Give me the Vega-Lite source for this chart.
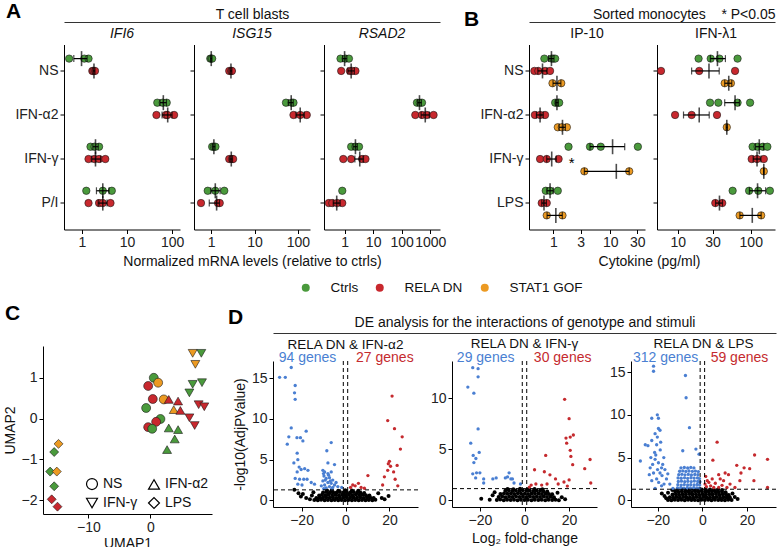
{
"$schema":"https://vega.github.io/schema/vega-lite/v6.json",
"padding":{"left":3,"top":1,"right":0,"bottom":0},
"config":{"font":"Liberation Sans","view":{"stroke":null},
"axis":{"grid":false,"domainColor":"#000","domainWidth":1,"tickColor":"#000","tickWidth":1,"tickSize":4,"labelColor":"#222","labelFontSize":14,"titleFontSize":14,"titleFontWeight":"normal","titleColor":"#111","labelPadding":2,"labelOverlap":false},
"title":{"fontWeight":"normal","fontSize":14,"color":"#111"},
"legend":{"labelFontSize":14,"labelColor":"#111"}},
"datasets":{
"aPts":[
{"gene":"IFI6","stim":"NS","g":"Ctrls","v":0.52},{"gene":"IFI6","stim":"NS","g":"Ctrls","v":1.13},{"gene":"IFI6","stim":"NS","g":"Ctrls","v":1.4},
{"gene":"IFI6","stim":"NS","g":"RELA DN","v":1.7},{"gene":"IFI6","stim":"NS","g":"RELA DN","v":1.8},{"gene":"IFI6","stim":"NS","g":"RELA DN","v":1.95},
{"gene":"IFI6","stim":"IFN-α2","g":"Ctrls","v":47},{"gene":"IFI6","stim":"IFN-α2","g":"Ctrls","v":62},{"gene":"IFI6","stim":"IFN-α2","g":"Ctrls","v":76},
{"gene":"IFI6","stim":"IFN-α2","g":"RELA DN","v":45},{"gene":"IFI6","stim":"IFN-α2","g":"RELA DN","v":73},{"gene":"IFI6","stim":"IFN-α2","g":"RELA DN","v":79},{"gene":"IFI6","stim":"IFN-α2","g":"RELA DN","v":111},
{"gene":"IFI6","stim":"IFN-γ","g":"Ctrls","v":1.55},{"gene":"IFI6","stim":"IFN-γ","g":"Ctrls","v":1.9},{"gene":"IFI6","stim":"IFN-γ","g":"Ctrls","v":2.4},
{"gene":"IFI6","stim":"IFN-γ","g":"RELA DN","v":1.4},{"gene":"IFI6","stim":"IFN-γ","g":"RELA DN","v":1.9},{"gene":"IFI6","stim":"IFN-γ","g":"RELA DN","v":2.4},{"gene":"IFI6","stim":"IFN-γ","g":"RELA DN","v":3.3},
{"gene":"IFI6","stim":"P/I","g":"Ctrls","v":1.25},{"gene":"IFI6","stim":"P/I","g":"Ctrls","v":2.9},{"gene":"IFI6","stim":"P/I","g":"Ctrls","v":4.6},
{"gene":"IFI6","stim":"P/I","g":"RELA DN","v":1.4},{"gene":"IFI6","stim":"P/I","g":"RELA DN","v":2.4},{"gene":"IFI6","stim":"P/I","g":"RELA DN","v":2.9},{"gene":"IFI6","stim":"P/I","g":"RELA DN","v":4.3},
{"gene":"ISG15","stim":"NS","g":"Ctrls","v":0.95},{"gene":"ISG15","stim":"NS","g":"Ctrls","v":1.0},{"gene":"ISG15","stim":"NS","g":"Ctrls","v":1.05},
{"gene":"ISG15","stim":"NS","g":"RELA DN","v":2.6},{"gene":"ISG15","stim":"NS","g":"RELA DN","v":2.9},{"gene":"ISG15","stim":"NS","g":"RELA DN","v":3.0},
{"gene":"ISG15","stim":"IFN-α2","g":"Ctrls","v":53},{"gene":"ISG15","stim":"IFN-α2","g":"Ctrls","v":72},{"gene":"ISG15","stim":"IFN-α2","g":"Ctrls","v":79},
{"gene":"ISG15","stim":"IFN-α2","g":"RELA DN","v":79},{"gene":"ISG15","stim":"IFN-α2","g":"RELA DN","v":113},{"gene":"ISG15","stim":"IFN-α2","g":"RELA DN","v":160},
{"gene":"ISG15","stim":"IFN-γ","g":"Ctrls","v":1.05},{"gene":"ISG15","stim":"IFN-γ","g":"Ctrls","v":1.15},{"gene":"ISG15","stim":"IFN-γ","g":"Ctrls","v":1.25},
{"gene":"ISG15","stim":"IFN-γ","g":"RELA DN","v":2.6},{"gene":"ISG15","stim":"IFN-γ","g":"RELA DN","v":3.0},{"gene":"ISG15","stim":"IFN-γ","g":"RELA DN","v":3.2},
{"gene":"ISG15","stim":"P/I","g":"Ctrls","v":0.83},{"gene":"ISG15","stim":"P/I","g":"Ctrls","v":1.24},{"gene":"ISG15","stim":"P/I","g":"Ctrls","v":2.0},
{"gene":"ISG15","stim":"P/I","g":"RELA DN","v":0.58},{"gene":"ISG15","stim":"P/I","g":"RELA DN","v":1.43},{"gene":"ISG15","stim":"P/I","g":"RELA DN","v":1.57},
{"gene":"RSAD2","stim":"NS","g":"Ctrls","v":0.72},{"gene":"RSAD2","stim":"NS","g":"Ctrls","v":1.08},{"gene":"RSAD2","stim":"NS","g":"Ctrls","v":1.42},
{"gene":"RSAD2","stim":"NS","g":"RELA DN","v":0.76},{"gene":"RSAD2","stim":"NS","g":"RELA DN","v":1.53},{"gene":"RSAD2","stim":"NS","g":"RELA DN","v":1.85},{"gene":"RSAD2","stim":"NS","g":"RELA DN","v":2.4},
{"gene":"RSAD2","stim":"IFN-α2","g":"Ctrls","v":343},{"gene":"RSAD2","stim":"IFN-α2","g":"Ctrls","v":430},{"gene":"RSAD2","stim":"IFN-α2","g":"Ctrls","v":515},
{"gene":"RSAD2","stim":"IFN-α2","g":"RELA DN","v":300},{"gene":"RSAD2","stim":"IFN-α2","g":"RELA DN","v":515},{"gene":"RSAD2","stim":"IFN-α2","g":"RELA DN","v":760},{"gene":"RSAD2","stim":"IFN-α2","g":"RELA DN","v":1310},
{"gene":"RSAD2","stim":"IFN-γ","g":"Ctrls","v":1.7},{"gene":"RSAD2","stim":"IFN-γ","g":"Ctrls","v":2.4},{"gene":"RSAD2","stim":"IFN-γ","g":"Ctrls","v":3.2},
{"gene":"RSAD2","stim":"IFN-γ","g":"RELA DN","v":0.9},{"gene":"RSAD2","stim":"IFN-γ","g":"RELA DN","v":1.7},{"gene":"RSAD2","stim":"IFN-γ","g":"RELA DN","v":4.1},{"gene":"RSAD2","stim":"IFN-γ","g":"RELA DN","v":5.4},
{"gene":"RSAD2","stim":"P/I","g":"Ctrls","v":0.83},
{"gene":"RSAD2","stim":"P/I","g":"RELA DN","v":0.28},{"gene":"RSAD2","stim":"P/I","g":"RELA DN","v":0.37},{"gene":"RSAD2","stim":"P/I","g":"RELA DN","v":0.55},{"gene":"RSAD2","stim":"P/I","g":"RELA DN","v":0.83}
],
"aSum":[
{"gene":"IFI6","stim":"NS","g":"Ctrls","m":0.98,"lo":0.66,"hi":1.3},{"gene":"IFI6","stim":"NS","g":"RELA DN","m":1.85,"lo":1.75,"hi":1.95},
{"gene":"IFI6","stim":"IFN-α2","g":"Ctrls","m":64,"lo":54,"hi":75},{"gene":"IFI6","stim":"IFN-α2","g":"RELA DN","m":80,"lo":60,"hi":100},
{"gene":"IFI6","stim":"IFN-γ","g":"Ctrls","m":2.0,"lo":1.75,"hi":2.3},{"gene":"IFI6","stim":"IFN-γ","g":"RELA DN","m":2.0,"lo":1.65,"hi":2.6},
{"gene":"IFI6","stim":"P/I","g":"Ctrls","m":2.9,"lo":2.1,"hi":4.0},{"gene":"IFI6","stim":"P/I","g":"RELA DN","m":2.9,"lo":2.3,"hi":3.6},
{"gene":"ISG15","stim":"NS","g":"Ctrls","m":1.0,"lo":0.96,"hi":1.04},{"gene":"ISG15","stim":"NS","g":"RELA DN","m":2.85,"lo":2.7,"hi":3.0},
{"gene":"ISG15","stim":"IFN-α2","g":"Ctrls","m":70,"lo":60,"hi":78},{"gene":"ISG15","stim":"IFN-α2","g":"RELA DN","m":113,"lo":90,"hi":140},
{"gene":"ISG15","stim":"IFN-γ","g":"Ctrls","m":1.15,"lo":1.07,"hi":1.23},{"gene":"ISG15","stim":"IFN-γ","g":"RELA DN","m":2.9,"lo":2.7,"hi":3.1},
{"gene":"ISG15","stim":"P/I","g":"Ctrls","m":1.24,"lo":0.98,"hi":1.6},{"gene":"ISG15","stim":"P/I","g":"RELA DN","m":1.33,"lo":0.9,"hi":1.55},
{"gene":"RSAD2","stim":"NS","g":"Ctrls","m":1.0,"lo":0.85,"hi":1.2},{"gene":"RSAD2","stim":"NS","g":"RELA DN","m":1.7,"lo":1.3,"hi":2.2},
{"gene":"RSAD2","stim":"IFN-α2","g":"Ctrls","m":420,"lo":360,"hi":490},{"gene":"RSAD2","stim":"IFN-α2","g":"RELA DN","m":670,"lo":480,"hi":930},
{"gene":"RSAD2","stim":"IFN-γ","g":"Ctrls","m":2.4,"lo":2.0,"hi":2.8},{"gene":"RSAD2","stim":"IFN-γ","g":"RELA DN","m":3.4,"lo":2.3,"hi":4.6},
{"gene":"RSAD2","stim":"P/I","g":"RELA DN","m":0.53,"lo":0.4,"hi":0.7}
],
"bPts":[
{"cyt":"IP-10","stim":"NS","g":"Ctrls","v":0.69},{"cyt":"IP-10","stim":"NS","g":"Ctrls","v":0.93},{"cyt":"IP-10","stim":"NS","g":"Ctrls","v":1.0},{"cyt":"IP-10","stim":"NS","g":"Ctrls","v":1.07},
{"cyt":"IP-10","stim":"NS","g":"RELA DN","v":0.46},{"cyt":"IP-10","stim":"NS","g":"RELA DN","v":0.54},{"cyt":"IP-10","stim":"NS","g":"RELA DN","v":0.71},{"cyt":"IP-10","stim":"NS","g":"RELA DN","v":0.87},
{"cyt":"IP-10","stim":"NS","g":"STAT1 GOF","v":0.96},{"cyt":"IP-10","stim":"NS","g":"STAT1 GOF","v":1.37},
{"cyt":"IP-10","stim":"IFN-α2","g":"Ctrls","v":1.07},{"cyt":"IP-10","stim":"IFN-α2","g":"Ctrls","v":1.2},{"cyt":"IP-10","stim":"IFN-α2","g":"Ctrls","v":1.26},
{"cyt":"IP-10","stim":"IFN-α2","g":"RELA DN","v":0.47},{"cyt":"IP-10","stim":"IFN-α2","g":"RELA DN","v":0.58},{"cyt":"IP-10","stim":"IFN-α2","g":"RELA DN","v":0.71},
{"cyt":"IP-10","stim":"IFN-α2","g":"STAT1 GOF","v":1.19},{"cyt":"IP-10","stim":"IFN-α2","g":"STAT1 GOF","v":1.4},{"cyt":"IP-10","stim":"IFN-α2","g":"STAT1 GOF","v":1.72},
{"cyt":"IP-10","stim":"IFN-γ","g":"Ctrls","v":1.84},{"cyt":"IP-10","stim":"IFN-γ","g":"Ctrls","v":4.4},{"cyt":"IP-10","stim":"IFN-γ","g":"Ctrls","v":6.8},{"cyt":"IP-10","stim":"IFN-γ","g":"Ctrls","v":30.7},
{"cyt":"IP-10","stim":"IFN-γ","g":"RELA DN","v":0.58},{"cyt":"IP-10","stim":"IFN-γ","g":"RELA DN","v":0.76},{"cyt":"IP-10","stim":"IFN-γ","g":"RELA DN","v":1.23},
{"cyt":"IP-10","stim":"IFN-γ","g":"STAT1 GOF","v":3.5},{"cyt":"IP-10","stim":"IFN-γ","g":"STAT1 GOF","v":21.6},
{"cyt":"IP-10","stim":"LPS","g":"Ctrls","v":0.73},{"cyt":"IP-10","stim":"LPS","g":"Ctrls","v":0.87},{"cyt":"IP-10","stim":"LPS","g":"Ctrls","v":1.19},
{"cyt":"IP-10","stim":"LPS","g":"RELA DN","v":0.62},{"cyt":"IP-10","stim":"LPS","g":"RELA DN","v":0.76},
{"cyt":"IP-10","stim":"LPS","g":"STAT1 GOF","v":0.76},{"cyt":"IP-10","stim":"LPS","g":"STAT1 GOF","v":1.44},
{"cyt":"IFN-λ1","stim":"NS","g":"Ctrls","v":19.3},{"cyt":"IFN-λ1","stim":"NS","g":"Ctrls","v":28.3},{"cyt":"IFN-λ1","stim":"NS","g":"Ctrls","v":37.3},{"cyt":"IFN-λ1","stim":"NS","g":"Ctrls","v":66},
{"cyt":"IFN-λ1","stim":"NS","g":"RELA DN","v":5.9},{"cyt":"IFN-λ1","stim":"NS","g":"RELA DN","v":19.7},{"cyt":"IFN-λ1","stim":"NS","g":"RELA DN","v":61},
{"cyt":"IFN-λ1","stim":"NS","g":"STAT1 GOF","v":44},{"cyt":"IFN-λ1","stim":"NS","g":"STAT1 GOF","v":53.5},
{"cyt":"IFN-λ1","stim":"IFN-α2","g":"Ctrls","v":27.7},{"cyt":"IFN-λ1","stim":"IFN-α2","g":"Ctrls","v":36},{"cyt":"IFN-λ1","stim":"IFN-α2","g":"Ctrls","v":66},{"cyt":"IFN-λ1","stim":"IFN-α2","g":"Ctrls","v":98},
{"cyt":"IFN-λ1","stim":"IFN-α2","g":"RELA DN","v":9.2},{"cyt":"IFN-λ1","stim":"IFN-α2","g":"RELA DN","v":15.5},{"cyt":"IFN-λ1","stim":"IFN-α2","g":"RELA DN","v":34.5},
{"cyt":"IFN-λ1","stim":"IFN-α2","g":"STAT1 GOF","v":47},
{"cyt":"IFN-λ1","stim":"IFN-γ","g":"Ctrls","v":106},{"cyt":"IFN-λ1","stim":"IFN-γ","g":"Ctrls","v":124},{"cyt":"IFN-λ1","stim":"IFN-γ","g":"Ctrls","v":147},{"cyt":"IFN-λ1","stim":"IFN-γ","g":"Ctrls","v":169},
{"cyt":"IFN-λ1","stim":"IFN-γ","g":"RELA DN","v":103},{"cyt":"IFN-λ1","stim":"IFN-γ","g":"RELA DN","v":122},{"cyt":"IFN-λ1","stim":"IFN-γ","g":"RELA DN","v":151},
{"cyt":"IFN-λ1","stim":"IFN-γ","g":"STAT1 GOF","v":151},
{"cyt":"IFN-λ1","stim":"LPS","g":"Ctrls","v":56.5},{"cyt":"IFN-λ1","stim":"LPS","g":"Ctrls","v":95},{"cyt":"IFN-λ1","stim":"LPS","g":"Ctrls","v":127},{"cyt":"IFN-λ1","stim":"LPS","g":"Ctrls","v":183},
{"cyt":"IFN-λ1","stim":"LPS","g":"RELA DN","v":32.7},{"cyt":"IFN-λ1","stim":"LPS","g":"RELA DN","v":40.7},
{"cyt":"IFN-λ1","stim":"LPS","g":"STAT1 GOF","v":70.5},{"cyt":"IFN-λ1","stim":"LPS","g":"STAT1 GOF","v":139}
],
"bSum":[
{"cyt":"IP-10","stim":"NS","g":"Ctrls","m":0.92,"lo":0.82,"hi":1.02},{"cyt":"IP-10","stim":"NS","g":"RELA DN","m":0.64,"lo":0.53,"hi":0.77},{"cyt":"IP-10","stim":"NS","g":"STAT1 GOF","m":1.15,"lo":0.98,"hi":1.35},
{"cyt":"IP-10","stim":"IFN-α2","g":"Ctrls","m":1.15,"lo":1.09,"hi":1.22},{"cyt":"IP-10","stim":"IFN-α2","g":"RELA DN","m":0.58,"lo":0.5,"hi":0.66},{"cyt":"IP-10","stim":"IFN-α2","g":"STAT1 GOF","m":1.44,"lo":1.26,"hi":1.62},
{"cyt":"IP-10","stim":"IFN-γ","g":"Ctrls","m":11,"lo":4.4,"hi":18},{"cyt":"IP-10","stim":"IFN-γ","g":"RELA DN","m":0.93,"lo":0.76,"hi":1.12},{"cyt":"IP-10","stim":"IFN-γ","g":"STAT1 GOF","m":12.8,"lo":3.5,"hi":21.6},
{"cyt":"IP-10","stim":"LPS","g":"Ctrls","m":0.87,"lo":0.77,"hi":0.99},{"cyt":"IP-10","stim":"LPS","g":"RELA DN","m":0.68,"lo":0.62,"hi":0.75},{"cyt":"IP-10","stim":"LPS","g":"STAT1 GOF","m":1.1,"lo":0.77,"hi":1.43},
{"cyt":"IFN-λ1","stim":"NS","g":"Ctrls","m":35,"lo":28,"hi":45},{"cyt":"IFN-λ1","stim":"NS","g":"RELA DN","m":26.8,"lo":15.5,"hi":37},{"cyt":"IFN-λ1","stim":"NS","g":"STAT1 GOF","m":50,"lo":44,"hi":55},
{"cyt":"IFN-λ1","stim":"IFN-α2","g":"Ctrls","m":61,"lo":44,"hi":70},{"cyt":"IFN-λ1","stim":"IFN-α2","g":"RELA DN","m":19.7,"lo":12,"hi":27},{"cyt":"IFN-λ1","stim":"IFN-α2","g":"STAT1 GOF","m":47,"lo":46,"hi":48},
{"cyt":"IFN-λ1","stim":"IFN-γ","g":"Ctrls","m":131,"lo":116,"hi":150},{"cyt":"IFN-λ1","stim":"IFN-γ","g":"RELA DN","m":122,"lo":108,"hi":138},{"cyt":"IFN-λ1","stim":"IFN-γ","g":"STAT1 GOF","m":151,"lo":150,"hi":152},
{"cyt":"IFN-λ1","stim":"LPS","g":"Ctrls","m":124,"lo":96,"hi":160},{"cyt":"IFN-λ1","stim":"LPS","g":"RELA DN","m":37.3,"lo":33,"hi":41},{"cyt":"IFN-λ1","stim":"LPS","g":"STAT1 GOF","m":105,"lo":71,"hi":139}
],
"umap":[
{"u1":0.53,"u2":1.0,"g":"Ctrls","stim":"NS"},{"u1":1.23,"u2":0.88,"g":"STAT1 GOF","stim":"NS"},{"u1":-0.37,"u2":0.8,"g":"RELA DN","stim":"NS"},{"u1":0.37,"u2":0.48,"g":"RELA DN","stim":"NS"},{"u1":2.14,"u2":0.47,"g":"STAT1 GOF","stim":"NS"},
{"u1":-0.7,"u2":0.26,"g":"Ctrls","stim":"NS"},{"u1":1.6,"u2":-0.01,"g":"Ctrls","stim":"NS"},{"u1":0.91,"u2":-0.08,"g":"RELA DN","stim":"NS"},{"u1":-0.37,"u2":-0.21,"g":"RELA DN","stim":"NS"},{"u1":0.27,"u2":-0.25,"g":"Ctrls","stim":"NS"},
{"u1":2.94,"u2":0.47,"g":"RELA DN","stim":"IFN-α2"},{"u1":4.44,"u2":0.43,"g":"RELA DN","stim":"IFN-α2"},{"u1":3.74,"u2":0.22,"g":"STAT1 GOF","stim":"IFN-α2"},{"u1":4.81,"u2":0.2,"g":"RELA DN","stim":"IFN-α2"},
{"u1":2.94,"u2":-0.23,"g":"Ctrls","stim":"IFN-α2"},{"u1":4.44,"u2":-0.27,"g":"Ctrls","stim":"IFN-α2"},{"u1":3.9,"u2":-0.5,"g":"Ctrls","stim":"IFN-α2"},{"u1":2.67,"u2":-0.76,"g":"Ctrls","stim":"IFN-α2"},
{"u1":6.79,"u2":1.6,"g":"STAT1 GOF","stim":"IFN-γ"},{"u1":8.18,"u2":1.6,"g":"Ctrls","stim":"IFN-γ"},{"u1":7.22,"u2":1.33,"g":"STAT1 GOF","stim":"IFN-γ"},{"u1":6.79,"u2":0.84,"g":"Ctrls","stim":"IFN-γ"},{"u1":8.29,"u2":0.88,"g":"Ctrls","stim":"IFN-γ"},
{"u1":6.26,"u2":0.63,"g":"Ctrls","stim":"IFN-γ"},{"u1":7.75,"u2":0.34,"g":"RELA DN","stim":"IFN-γ"},{"u1":8.66,"u2":0.29,"g":"RELA DN","stim":"IFN-γ"},{"u1":6.26,"u2":0.02,"g":"RELA DN","stim":"IFN-γ"},{"u1":7.11,"u2":-0.17,"g":"RELA DN","stim":"IFN-γ"},
{"u1":-14.8,"u2":-0.62,"g":"STAT1 GOF","stim":"LPS"},{"u1":-15.5,"u2":-0.82,"g":"Ctrls","stim":"LPS"},{"u1":-16.15,"u2":-1.3,"g":"Ctrls","stim":"LPS"},{"u1":-15.08,"u2":-1.3,"g":"STAT1 GOF","stim":"LPS"},
{"u1":-15.5,"u2":-1.66,"g":"Ctrls","stim":"LPS"},{"u1":-15.9,"u2":-1.98,"g":"RELA DN","stim":"LPS"},{"u1":-14.97,"u2":-2.16,"g":"RELA DN","stim":"LPS"}
],
"d1n":[{"x":-14.2,"y":0.05},{"x":-12.6,"y":0.02},{"x":-11.1,"y":0.08},{"x":-9.5,"y":0.03},{"x":-8,"y":0.06},{"x":-6.4,"y":0.02},{"x":-4.9,"y":0.07},{"x":-3.3,"y":0.03},{"x":-1.8,"y":0.05},{"x":-0.2,"y":0.02},{"x":1.3,"y":0.06},{"x":2.9,"y":0.03},{"x":4.4,"y":0.07},{"x":6,"y":0.02},{"x":7.5,"y":0.05},{"x":9.1,"y":0.03},{"x":10.6,"y":0.06},{"x":12.2,"y":0.02},{"x":13.6,"y":0.08},
{"x":-13.3,"y":0.3},{"x":-11.8,"y":0.38},{"x":-10.3,"y":0.33},{"x":-8.8,"y":0.4},{"x":-7.2,"y":0.34},{"x":-5.7,"y":0.39},{"x":-4.1,"y":0.31},{"x":-2.6,"y":0.37},{"x":-1,"y":0.35},{"x":0.5,"y":0.4},{"x":2.1,"y":0.32},{"x":3.6,"y":0.38},{"x":5.2,"y":0.34},{"x":6.7,"y":0.39},{"x":8.3,"y":0.31},{"x":9.8,"y":0.36},{"x":11.3,"y":0.33},{"x":12.8,"y":0.3},
{"x":-12,"y":0.62},{"x":-10.7,"y":0.7},{"x":-9.2,"y":0.65},{"x":-7.7,"y":0.72},{"x":-6.1,"y":0.66},{"x":-4.6,"y":0.7},{"x":-3,"y":0.64},{"x":-1.5,"y":0.71},{"x":0,"y":0.67},{"x":1.6,"y":0.7},{"x":3.1,"y":0.65},{"x":4.7,"y":0.72},{"x":6.2,"y":0.66},{"x":7.8,"y":0.69},{"x":9.3,"y":0.63},{"x":10.9,"y":0.6},
{"x":-10.2,"y":0.98},{"x":-8.7,"y":1.03},{"x":-7.1,"y":0.97},{"x":-5.6,"y":1.02},{"x":-4,"y":0.99},{"x":-2.5,"y":1.04},{"x":-0.9,"y":0.98},{"x":0.6,"y":1.01},{"x":2.2,"y":0.97},{"x":3.7,"y":1.03},{"x":5.3,"y":0.99},{"x":6.8,"y":0.95},{"x":8.5,"y":0.92},
{"x":-8.4,"y":1.22},{"x":-6.3,"y":1.25},{"x":-3.3,"y":1.2},{"x":-0.1,"y":1.24},{"x":2.9,"y":1.21},{"x":5.8,"y":1.18},
{"x":-23.3,"y":1.3},{"x":-21.4,"y":0.9},{"x":-19.4,"y":0.8},{"x":-17.9,"y":0.3},{"x":-16.2,"y":0.15},{"x":-15.3,"y":0.6},{"x":-20.3,"y":0.5},{"x":14.9,"y":0.9},{"x":16.5,"y":0.3},{"x":19.6,"y":0.55},{"x":17.8,"y":0.15},{"x":-14.6,"y":1.0}],
"d1b":[{"x":-30,"y":15.1},{"x":-27.4,"y":15.1},{"x":-24.7,"y":16.3},{"x":-22.9,"y":14.1},{"x":-23.2,"y":13.2},{"x":-22.9,"y":12.4},{"x":-24.7,"y":8.9},{"x":-26.5,"y":6.9},{"x":-25.8,"y":7.8},{"x":-22.1,"y":7.7},{"x":-20.5,"y":7.7},{"x":-17.9,"y":8.5},{"x":-19.4,"y":7.3},{"x":-22,"y":5.8},{"x":-23.5,"y":4.6},{"x":-21.7,"y":5.0},{"x":-21.1,"y":4.1},{"x":-20.2,"y":3.8},{"x":-22,"y":3.5},{"x":-18.6,"y":3.9},{"x":-17.1,"y":3.7},{"x":-22.9,"y":2.7},{"x":-20.9,"y":2.6},{"x":-19,"y":2.6},{"x":-17.5,"y":2.6},{"x":-15.6,"y":2.2},{"x":-14.1,"y":2.0},{"x":-21.7,"y":2.0},{"x":-19.8,"y":1.9},
{"x":-6.5,"y":7.1},{"x":-8.5,"y":6.1},{"x":-8,"y":4.6},{"x":-5,"y":4.4},{"x":-10.3,"y":3.7},{"x":-9.5,"y":3.5},{"x":-8,"y":3.3},{"x":-6.5,"y":3.5},{"x":-9.8,"y":3.0},{"x":-8.8,"y":2.7},{"x":-7.3,"y":2.8},{"x":-5.8,"y":2.5},{"x":-10.3,"y":2.4},{"x":-8,"y":2.2},{"x":-6.5,"y":2.1},{"x":-5,"y":1.9},{"x":-9.5,"y":1.9},{"x":-3.5,"y":1.7},{"x":-1.7,"y":1.6},{"x":-11,"y":1.8},{"x":-7.3,"y":1.7},{"x":-5.8,"y":1.6},{"x":-8.8,"y":1.55},{"x":-9.2,"y":2.5},{"x":-7.7,"y":3.1},{"x":-6.9,"y":2.4},{"x":-10,"y":3.3},{"x":-4.3,"y":2.2},{"x":-9.9,"y":1.45},{"x":-6.2,"y":1.45}],
"d1r":[{"x":21.2,"y":12.8},{"x":19.2,"y":9.8},{"x":22.3,"y":8.8},{"x":25.8,"y":7.8},{"x":25,"y":6.3},{"x":20,"y":4.8},{"x":19.5,"y":4.5},{"x":23.5,"y":4.3},{"x":19.2,"y":3.7},{"x":21.9,"y":3.5},{"x":17.7,"y":2.9},{"x":22.6,"y":2.6},{"x":16.9,"y":1.9},{"x":23.8,"y":1.8},{"x":10.2,"y":3.05},{"x":5.9,"y":2.1},{"x":4.4,"y":1.8},{"x":7.1,"y":1.6},{"x":8.6,"y":1.5},{"x":2.3,"y":1.6},{"x":3.3,"y":1.9},{"x":20.5,"y":4.2}],
"d2n":[{"x":-12.4,"y":0.04},{"x":-10.9,"y":0.08},{"x":-9.3,"y":0.02},{"x":-7.8,"y":0.06},{"x":-6.2,"y":0.03},{"x":-4.7,"y":0.07},{"x":-3.1,"y":0.02},{"x":-1.6,"y":0.05},{"x":0,"y":0.03},{"x":1.5,"y":0.07},{"x":3.1,"y":0.02},{"x":4.6,"y":0.06},{"x":6.2,"y":0.03},{"x":7.7,"y":0.07},{"x":9.3,"y":0.02},{"x":10.8,"y":0.05},{"x":12.4,"y":0.03},{"x":13.9,"y":0.06},{"x":15.4,"y":0.02},
{"x":-11.6,"y":0.33},{"x":-10,"y":0.37},{"x":-8.5,"y":0.31},{"x":-6.9,"y":0.36},{"x":-5.4,"y":0.32},{"x":-3.8,"y":0.38},{"x":-2.3,"y":0.33},{"x":-0.7,"y":0.36},{"x":0.8,"y":0.31},{"x":2.4,"y":0.37},{"x":3.9,"y":0.33},{"x":5.5,"y":0.35},{"x":7,"y":0.32},{"x":8.6,"y":0.37},{"x":10.1,"y":0.33},{"x":11.7,"y":0.36},{"x":13.2,"y":0.3},
{"x":-10.8,"y":0.63},{"x":-9.2,"y":0.68},{"x":-7.7,"y":0.64},{"x":-6.1,"y":0.67},{"x":-4.6,"y":0.62},{"x":-3,"y":0.69},{"x":-1.5,"y":0.65},{"x":0.1,"y":0.66},{"x":1.6,"y":0.62},{"x":3.2,"y":0.68},{"x":4.7,"y":0.64},{"x":6.3,"y":0.67},{"x":7.8,"y":0.63},{"x":9.4,"y":0.66},{"x":10.9,"y":0.62},{"x":12.4,"y":0.6},
{"x":-8.6,"y":0.93},{"x":-7,"y":0.97},{"x":-5.4,"y":0.92},{"x":-3.9,"y":0.96},{"x":-2.3,"y":0.94},{"x":-0.8,"y":0.98},{"x":0.8,"y":0.93},{"x":2.3,"y":0.97},{"x":3.9,"y":0.92},{"x":5.4,"y":0.96},{"x":7,"y":0.93},{"x":8.5,"y":0.9},{"x":10.2,"y":0.88},
{"x":-7.6,"y":1.12},{"x":-5,"y":1.1},{"x":-2,"y":1.13},{"x":1.5,"y":1.1},{"x":4.5,"y":1.12},{"x":8,"y":1.08},
{"x":-19.4,"y":0.15},{"x":-15.6,"y":0.05},{"x":-14.3,"y":0.5},{"x":16.7,"y":0.3},{"x":18.2,"y":0.1},{"x":-13.4,"y":0.8},{"x":14.8,"y":0.75}],
"d2b":[{"x":-23.2,"y":13.0},{"x":-20.8,"y":12.9},{"x":-20.8,"y":12.1},{"x":-25.4,"y":11.1},{"x":-22.7,"y":10.5},{"x":-24.1,"y":5.6},{"x":-20.8,"y":7.0},{"x":-23,"y":4.4},{"x":-21.8,"y":4.1},{"x":-20.3,"y":4.7},{"x":-22.7,"y":3.7},{"x":-23.2,"y":2.6},{"x":-21.5,"y":2.7},{"x":-20,"y":2.7},{"x":-21.9,"y":2.2},{"x":-18.3,"y":2.1},{"x":-18.3,"y":1.7},{"x":-14.2,"y":2.1},{"x":-12.7,"y":2.2},{"x":-8.6,"y":2.2},{"x":-7.6,"y":2.3},{"x":-6.9,"y":2.7},{"x":-6.1,"y":2.1},{"x":-5.4,"y":2.1},{"x":-1.8,"y":1.6},{"x":-4.7,"y":1.7}],
"d2r":[{"x":4.5,"y":3.0},{"x":9.5,"y":4.4},{"x":8.9,"y":2.8},{"x":11.4,"y":2.5},{"x":13.9,"y":2.1},{"x":17.7,"y":1.8},{"x":5.1,"y":1.6},{"x":7.7,"y":1.5},{"x":10.1,"y":1.6},{"x":15.1,"y":1.6},{"x":18,"y":9.9},{"x":20,"y":8.0},{"x":18.6,"y":6.1},{"x":20.5,"y":6.2},{"x":21.9,"y":6.4},{"x":18.9,"y":5.6},{"x":20.5,"y":4.9},{"x":20.8,"y":4.3},{"x":21.6,"y":3.5},{"x":27,"y":3.1},{"x":29.4,"y":4.0},{"x":20,"y":2.0},{"x":29.7,"y":1.7},{"x":19.2,"y":1.4},{"x":3,"y":1.5},{"x":2.2,"y":1.3}],
"d3n":[{"x":-15.4,"y":0.05},{"x":-13.9,"y":0.02},{"x":-12.4,"y":0.07},{"x":-10.9,"y":0.03},{"x":-9.4,"y":0.06},{"x":-7.9,"y":0.02},{"x":-6.4,"y":0.08},{"x":-4.9,"y":0.03},{"x":-3.4,"y":0.05},{"x":-1.9,"y":0.02},{"x":-0.4,"y":0.07},{"x":1.1,"y":0.03},{"x":2.6,"y":0.06},{"x":4.1,"y":0.02},{"x":5.6,"y":0.07},{"x":7.1,"y":0.03},{"x":8.6,"y":0.05},{"x":10.1,"y":0.02},{"x":11.6,"y":0.06},{"x":13.1,"y":0.03},
{"x":-14.6,"y":0.37},{"x":-13.1,"y":0.33},{"x":-11.6,"y":0.39},{"x":-10.1,"y":0.34},{"x":-8.6,"y":0.38},{"x":-7.1,"y":0.32},{"x":-5.6,"y":0.37},{"x":-4.1,"y":0.33},{"x":-2.6,"y":0.39},{"x":-1.1,"y":0.34},{"x":0.4,"y":0.38},{"x":1.9,"y":0.32},{"x":3.4,"y":0.36},{"x":4.9,"y":0.33},{"x":6.4,"y":0.39},{"x":7.9,"y":0.34},{"x":9.4,"y":0.37},{"x":10.9,"y":0.32},{"x":12.3,"y":0.35},
{"x":-13.4,"y":0.68},{"x":-11.9,"y":0.72},{"x":-10.4,"y":0.66},{"x":-8.9,"y":0.71},{"x":-7.4,"y":0.67},{"x":-5.9,"y":0.73},{"x":-4.4,"y":0.68},{"x":-2.9,"y":0.7},{"x":-1.4,"y":0.66},{"x":0.1,"y":0.72},{"x":1.6,"y":0.67},{"x":3.1,"y":0.71},{"x":4.6,"y":0.68},{"x":6.1,"y":0.73},{"x":7.6,"y":0.66},{"x":9.1,"y":0.7},{"x":10.6,"y":0.67},{"x":11.8,"y":0.62},
{"x":-12.2,"y":1.02},{"x":-10.7,"y":0.98},{"x":-9.2,"y":1.04},{"x":-7.7,"y":0.99},{"x":-6.2,"y":1.03},{"x":-4.7,"y":0.97},{"x":-3.2,"y":1.05},{"x":-1.7,"y":1.0},{"x":-0.2,"y":1.03},{"x":1.3,"y":0.98},{"x":2.8,"y":1.04},{"x":4.3,"y":0.99},{"x":5.8,"y":1.02},{"x":7.3,"y":0.97},{"x":8.8,"y":1.0},{"x":10.4,"y":0.95},
{"x":-11,"y":1.27},{"x":-9.2,"y":1.3},{"x":-7.4,"y":1.25},{"x":-5.6,"y":1.29},{"x":-3.8,"y":1.26},{"x":-2,"y":1.3},{"x":-0.3,"y":1.27},{"x":1.6,"y":1.25},{"x":3.4,"y":1.28},{"x":5.2,"y":1.24},{"x":7,"y":1.27},{"x":8.8,"y":1.22},
{"x":-15.4,"y":0.9},{"x":-13.5,"y":1.2},{"x":-17,"y":0.5},{"x":-16.2,"y":0.25},{"x":14.5,"y":0.4},{"x":15.8,"y":0.15},{"x":-18.2,"y":0.8},{"x":13.5,"y":0.8}],
"d3b":[{"x":-21.9,"y":15.7},{"x":-21.9,"y":15.1},{"x":-7.6,"y":14.6},{"x":-7.3,"y":12.0},{"x":-5.8,"y":8.5},{"x":-22.7,"y":9.6},{"x":-20.2,"y":10.0},{"x":-19.7,"y":9.6},{"x":-19.7,"y":8.4},{"x":-19,"y":8.2},{"x":-21.2,"y":7.8},{"x":-25.6,"y":6.5},{"x":-22.7,"y":7.0},{"x":-20.5,"y":6.5},{"x":-18.7,"y":6.8},{"x":-27.8,"y":4.6},{"x":-23.4,"y":3.8},{"x":-21.2,"y":4.8},{"x":-19.7,"y":4.4},{"x":-18.3,"y":3.8},{"x":-17.3,"y":5.0},{"x":-21.9,"y":3.2},{"x":-19,"y":3.2},{"x":-16.8,"y":3.6},{"x":-20.5,"y":2.5},{"x":-22.7,"y":2.3},{"x":-16.1,"y":2.5},{"x":-14.6,"y":1.9},{"x":-21.2,"y":1.4},{"x":-18.3,"y":1.7},{"x":-13.2,"y":1.4},{"x":-8.8,"y":5.8},{"x":-2.9,"y":6.0},{"x":-1.5,"y":5.4},{"x":-24.4,"y":6.4},{"x":-20.9,"y":5.3},{"x":-18.9,"y":5.9},{"x":-22.3,"y":4.2},{"x":-17.8,"y":4.2},{"x":-20.1,"y":3.6},{"x":-23.8,"y":3.0},{"x":-18.1,"y":2.9},{"x":-15.5,"y":3.1},{"x":-19.6,"y":2.1},{"x":-17.2,"y":1.9},{"x":-21.4,"y":5.6},{"x":-20.2,"y":7.4},{"x":-23.1,"y":5.0},
{"x":-11.2,"y":1.45},{"x":-9.7,"y":1.48},{"x":-8.3,"y":1.43},{"x":-6.8,"y":1.47},{"x":-5.4,"y":1.44},{"x":-3.9,"y":1.49},{"x":-2.5,"y":1.45},{"x":-1.3,"y":1.42},
{"x":-11,"y":1.82},{"x":-9.5,"y":1.78},{"x":-8.1,"y":1.84},{"x":-6.6,"y":1.79},{"x":-5.2,"y":1.83},{"x":-3.7,"y":1.8},{"x":-2.3,"y":1.85},{"x":-1.2,"y":1.8},
{"x":-10.8,"y":2.2},{"x":-9.4,"y":2.24},{"x":-7.9,"y":2.18},{"x":-6.5,"y":2.23},{"x":-5,"y":2.19},{"x":-3.6,"y":2.25},{"x":-2.1,"y":2.2},{"x":-1.1,"y":2.16},
{"x":-10.9,"y":2.62},{"x":-9.5,"y":2.58},{"x":-8,"y":2.63},{"x":-6.6,"y":2.57},{"x":-5.1,"y":2.64},{"x":-3.7,"y":2.6},{"x":-2.2,"y":2.62},{"x":-1.3,"y":2.55},
{"x":-10.6,"y":3.0},{"x":-9.2,"y":3.04},{"x":-7.8,"y":2.98},{"x":-6.3,"y":3.03},{"x":-4.9,"y":2.97},{"x":-3.4,"y":3.02},{"x":-2,"y":2.99},
{"x":-10.2,"y":3.4},{"x":-8.8,"y":3.44},{"x":-7.4,"y":3.38},{"x":-6,"y":3.43},{"x":-4.5,"y":3.39},{"x":-3.1,"y":3.42},{"x":-1.8,"y":3.36},
{"x":-9.6,"y":3.8},{"x":-8.1,"y":3.84},{"x":-6.6,"y":3.78},{"x":-5.2,"y":3.85},{"x":-3.8,"y":3.79}],
"d3r":[{"x":6.6,"y":6.8},{"x":4.7,"y":4.7},{"x":23.4,"y":5.3},{"x":29.2,"y":4.8},{"x":15.4,"y":4.1},{"x":18.7,"y":3.8},{"x":21.2,"y":3.7},{"x":17.3,"y":3.2},{"x":23.1,"y":2.3},{"x":29.2,"y":1.5},{"x":7.3,"y":3.0},{"x":10.2,"y":3.2},{"x":11.7,"y":3.0},{"x":8,"y":2.5},{"x":9.5,"y":2.3},{"x":4.4,"y":2.5},{"x":2.9,"y":2.1},{"x":1.5,"y":2.8},{"x":2.2,"y":2.3},{"x":5.8,"y":2.0},{"x":8.8,"y":1.75},{"x":12.4,"y":1.9},{"x":11,"y":1.5},{"x":3.7,"y":1.7},{"x":1.2,"y":1.9},{"x":14.6,"y":1.5},{"x":16.8,"y":2.3},{"x":7.3,"y":1.5},{"x":5.1,"y":1.5},{"x":1.8,"y":1.6}]
},
"vconcat":[
{"hconcat":[
 {"width":1,"height":1,"data":{"values":[]},"mark":{"type":"point","opacity":0},"encoding":{},
  "title":{"text":"A","anchor":"start","frame":"group","dx":-37,"dy":17,"offset":0,"baseline":"alphabetic","fontSize":21,"fontWeight":"bold","color":"#000"}},
 {"hconcat":[
  {"vconcat":[
   {"width":376,"height":1,"data":{"values":[]},"mark":{"type":"point","opacity":0},
    "encoding":{"x":{"field":"v","type":"quantitative","scale":{"domain":[0,1],"nice":false},"axis":{"orient":"top","ticks":false,"labels":false,"domainColor":"#333","title":"T cell blasts","titlePadding":1}}}},
   {"hconcat":[
    {"width":116,"height":185,"title":{"text":"IFI6","fontStyle":"italic","offset":4},
     "encoding":{"y":{"field":"stim","type":"nominal","scale":{"domain":["NS","IFN-α2","IFN-γ","P/I"],"paddingInner":0,"paddingOuter":0.1},"axis":{"title":null}},
       "yOffset":{"field":"g","type":"nominal","scale":{"domain":["Ctrls","RELA DN"],"paddingInner":0,"paddingOuter":0.29}}},
     "layer":[
      {"data":{"name":"aPts"},"transform":[{"filter":"datum.gene==='IFI6'"}],"mark":{"type":"point","filled":true,"size":55,"stroke":"#1a1a1a","strokeWidth":0.6,"opacity":1},
       "encoding":{"x":{"field":"v","type":"quantitative","scale":{"type":"log","domain":[0.4,150],"nice":false},"axis":{"values":[1,10,100],"format":"d","title":null}},
        "color":{"field":"g","type":"nominal","scale":{"domain":["Ctrls","RELA DN","STAT1 GOF"],"range":["#4a9a3c","#c8282e","#ec9a22"]},"legend":null}}},
      {"data":{"name":"aSum"},"transform":[{"filter":"datum.gene==='IFI6'"}],"mark":{"type":"rule","color":"#000","strokeWidth":1.2},
       "encoding":{"x":{"field":"lo","type":"quantitative","scale":{"type":"log","domain":[0.4,150],"nice":false}},"x2":{"field":"hi"}}},
      {"data":{"name":"aSum"},"transform":[{"filter":"datum.gene==='IFI6'"}],"mark":{"type":"tick","color":"#000","thickness":1.2,"size":7},
       "encoding":{"x":{"field":"lo","type":"quantitative","scale":{"type":"log","domain":[0.4,150],"nice":false}}}},
      {"data":{"name":"aSum"},"transform":[{"filter":"datum.gene==='IFI6'"}],"mark":{"type":"tick","color":"#000","thickness":1.2,"size":7},
       "encoding":{"x":{"field":"hi","type":"quantitative","scale":{"type":"log","domain":[0.4,150],"nice":false}}}},
      {"data":{"name":"aSum"},"transform":[{"filter":"datum.gene==='IFI6'"}],"mark":{"type":"tick","color":"#000","thickness":1.6,"size":15},
       "encoding":{"x":{"field":"m","type":"quantitative","scale":{"type":"log","domain":[0.4,150],"nice":false}}}}
     ]},
    {"width":116,"height":185,"title":{"text":"ISG15","fontStyle":"italic","offset":4},
     "encoding":{"y":{"field":"stim","type":"nominal","scale":{"domain":["NS","IFN-α2","IFN-γ","P/I"],"paddingInner":0,"paddingOuter":0.1},"axis":{"title":null,"labels":false}},
       "yOffset":{"field":"g","type":"nominal","scale":{"domain":["Ctrls","RELA DN"],"paddingInner":0,"paddingOuter":0.29}}},
     "layer":[
      {"data":{"name":"aPts"},"transform":[{"filter":"datum.gene==='ISG15'"}],"mark":{"type":"point","filled":true,"size":55,"stroke":"#1a1a1a","strokeWidth":0.6,"opacity":1},
       "encoding":{"x":{"field":"v","type":"quantitative","scale":{"type":"log","domain":[0.4,190],"nice":false},"axis":{"values":[1,10,100],"format":"d","title":"Normalized mRNA levels (relative to ctrls)","titlePadding":5}},
        "color":{"field":"g","type":"nominal","scale":{"domain":["Ctrls","RELA DN","STAT1 GOF"],"range":["#4a9a3c","#c8282e","#ec9a22"]},"legend":null}}},
      {"data":{"name":"aSum"},"transform":[{"filter":"datum.gene==='ISG15'"}],"mark":{"type":"rule","color":"#000","strokeWidth":1.2},
       "encoding":{"x":{"field":"lo","type":"quantitative","scale":{"type":"log","domain":[0.4,190],"nice":false}},"x2":{"field":"hi"}}},
      {"data":{"name":"aSum"},"transform":[{"filter":"datum.gene==='ISG15'"}],"mark":{"type":"tick","color":"#000","thickness":1.2,"size":7},
       "encoding":{"x":{"field":"lo","type":"quantitative","scale":{"type":"log","domain":[0.4,190],"nice":false}}}},
      {"data":{"name":"aSum"},"transform":[{"filter":"datum.gene==='ISG15'"}],"mark":{"type":"tick","color":"#000","thickness":1.2,"size":7},
       "encoding":{"x":{"field":"hi","type":"quantitative","scale":{"type":"log","domain":[0.4,190],"nice":false}}}},
      {"data":{"name":"aSum"},"transform":[{"filter":"datum.gene==='ISG15'"}],"mark":{"type":"tick","color":"#000","thickness":1.6,"size":15},
       "encoding":{"x":{"field":"m","type":"quantitative","scale":{"type":"log","domain":[0.4,190],"nice":false}}}}
     ]},
    {"width":116,"height":185,"title":{"text":"RSAD2","fontStyle":"italic","offset":4},
     "encoding":{"y":{"field":"stim","type":"nominal","scale":{"domain":["NS","IFN-α2","IFN-γ","P/I"],"paddingInner":0,"paddingOuter":0.1},"axis":{"title":null,"labels":false}},
       "yOffset":{"field":"g","type":"nominal","scale":{"domain":["Ctrls","RELA DN"],"paddingInner":0,"paddingOuter":0.29}}},
     "layer":[
      {"data":{"name":"aPts"},"transform":[{"filter":"datum.gene==='RSAD2'"}],"mark":{"type":"point","filled":true,"size":55,"stroke":"#1a1a1a","strokeWidth":0.6,"opacity":1},
       "encoding":{"x":{"field":"v","type":"quantitative","scale":{"type":"log","domain":[0.19,2200],"nice":false},"axis":{"values":[1,10,100,1000],"format":"d","title":null}},
        "color":{"field":"g","type":"nominal","scale":{"domain":["Ctrls","RELA DN","STAT1 GOF"],"range":["#4a9a3c","#c8282e","#ec9a22"]},"legend":null}}},
      {"data":{"name":"aSum"},"transform":[{"filter":"datum.gene==='RSAD2'"}],"mark":{"type":"rule","color":"#000","strokeWidth":1.2},
       "encoding":{"x":{"field":"lo","type":"quantitative","scale":{"type":"log","domain":[0.19,2200],"nice":false}},"x2":{"field":"hi"}}},
      {"data":{"name":"aSum"},"transform":[{"filter":"datum.gene==='RSAD2'"}],"mark":{"type":"tick","color":"#000","thickness":1.2,"size":7},
       "encoding":{"x":{"field":"lo","type":"quantitative","scale":{"type":"log","domain":[0.19,2200],"nice":false}}}},
      {"data":{"name":"aSum"},"transform":[{"filter":"datum.gene==='RSAD2'"}],"mark":{"type":"tick","color":"#000","thickness":1.2,"size":7},
       "encoding":{"x":{"field":"hi","type":"quantitative","scale":{"type":"log","domain":[0.19,2200],"nice":false}}}},
      {"data":{"name":"aSum"},"transform":[{"filter":"datum.gene==='RSAD2'"}],"mark":{"type":"tick","color":"#000","thickness":1.6,"size":15},
       "encoding":{"x":{"field":"m","type":"quantitative","scale":{"type":"log","domain":[0.19,2200],"nice":false}}}}
     ]}
   ],"spacing":14,"bounds":"flush","resolve":{"scale":{"color":"independent"},"legend":{"color":"independent"}}}
  ],"spacing":3.5,"resolve":{"scale":{"color":"independent"},"legend":{"color":"independent"}}},
  {"vconcat":[
   {"width":246,"height":1,"data":{"values":[]},"mark":{"type":"point","opacity":0},
    "title":{"text":"B","anchor":"start","frame":"group","dx":-65,"dy":40,"offset":0,"baseline":"alphabetic","fontSize":21,"fontWeight":"bold","color":"#000"},
    "encoding":{"x":{"field":"v","type":"quantitative","scale":{"domain":[0,1],"nice":false},"axis":{"orient":"top","ticks":false,"labels":false,"domainColor":"#333","title":"Sorted monocytes\u00a0\u00a0\u00a0\u00a0* P<0.05","titleAnchor":"end","titlePadding":1}}}},
   {"hconcat":[
    {"width":116,"height":185,"title":{"text":"IP-10","offset":4},
     "encoding":{"y":{"field":"stim","type":"nominal","scale":{"domain":["NS","IFN-α2","IFN-γ","LPS"],"paddingInner":0,"paddingOuter":0.1},"axis":{"title":null}},
       "yOffset":{"field":"g","type":"nominal","scale":{"domain":["Ctrls","RELA DN","STAT1 GOF"],"paddingInner":0,"paddingOuter":0.75}}},
     "layer":[
      {"data":{"name":"bPts"},"transform":[{"filter":"datum.cyt==='IP-10'"}],"mark":{"type":"point","filled":true,"size":55,"stroke":"#1a1a1a","strokeWidth":0.6,"opacity":1},
       "encoding":{"x":{"field":"v","type":"quantitative","scale":{"type":"log","domain":[0.37,41],"nice":false},"axis":{"values":[1,3,10,30],"format":"d","title":"Cytokine (pg/ml)","titleX":120,"titlePadding":5}},
        "color":{"field":"g","type":"nominal","scale":{"domain":["Ctrls","RELA DN","STAT1 GOF"],"range":["#4a9a3c","#c8282e","#ec9a22"]},"legend":null}}},
      {"data":{"name":"bSum"},"transform":[{"filter":"datum.cyt==='IP-10'"}],"mark":{"type":"rule","color":"#000","strokeWidth":1.2},
       "encoding":{"x":{"field":"lo","type":"quantitative","scale":{"type":"log","domain":[0.37,41],"nice":false}},"x2":{"field":"hi"}}},
      {"data":{"name":"bSum"},"transform":[{"filter":"datum.cyt==='IP-10'"}],"mark":{"type":"tick","color":"#000","thickness":1.2,"size":7},
       "encoding":{"x":{"field":"lo","type":"quantitative","scale":{"type":"log","domain":[0.37,41],"nice":false}}}},
      {"data":{"name":"bSum"},"transform":[{"filter":"datum.cyt==='IP-10'"}],"mark":{"type":"tick","color":"#000","thickness":1.2,"size":7},
       "encoding":{"x":{"field":"hi","type":"quantitative","scale":{"type":"log","domain":[0.37,41],"nice":false}}}},
      {"data":{"name":"bSum"},"transform":[{"filter":"datum.cyt==='IP-10'"}],"mark":{"type":"tick","color":"#000","thickness":1.6,"size":15},
       "encoding":{"x":{"field":"m","type":"quantitative","scale":{"type":"log","domain":[0.37,41],"nice":false}}}},
      {"data":{"values":[{"stim":"IFN-γ","g":"RELA DN","v":2.1,"t":"*"}]},"mark":{"type":"text","fontSize":15,"dy":4,"color":"#000"},
       "encoding":{"x":{"field":"v","type":"quantitative","scale":{"type":"log","domain":[0.37,41],"nice":false}},"text":{"field":"t"}}}
     ]},
    {"width":118,"height":185,"title":{"text":"IFN-λ1","offset":4},
     "encoding":{"y":{"field":"stim","type":"nominal","scale":{"domain":["NS","IFN-α2","IFN-γ","LPS"],"paddingInner":0,"paddingOuter":0.1},"axis":{"title":null,"labels":false}},
       "yOffset":{"field":"g","type":"nominal","scale":{"domain":["Ctrls","RELA DN","STAT1 GOF"],"paddingInner":0,"paddingOuter":0.75}}},
     "layer":[
      {"data":{"name":"bPts"},"transform":[{"filter":"datum.cyt==='IFN-λ1'"}],"mark":{"type":"point","filled":true,"size":55,"stroke":"#1a1a1a","strokeWidth":0.6,"opacity":1},
       "encoding":{"x":{"field":"v","type":"quantitative","scale":{"type":"log","domain":[5.2,215],"nice":false},"axis":{"values":[10,30,100],"format":"d","title":null}},
        "color":{"field":"g","type":"nominal","scale":{"domain":["Ctrls","RELA DN","STAT1 GOF"],"range":["#4a9a3c","#c8282e","#ec9a22"]},"legend":null}}},
      {"data":{"name":"bSum"},"transform":[{"filter":"datum.cyt==='IFN-λ1'"}],"mark":{"type":"rule","color":"#000","strokeWidth":1.2},
       "encoding":{"x":{"field":"lo","type":"quantitative","scale":{"type":"log","domain":[5.2,215],"nice":false}},"x2":{"field":"hi"}}},
      {"data":{"name":"bSum"},"transform":[{"filter":"datum.cyt==='IFN-λ1'"}],"mark":{"type":"tick","color":"#000","thickness":1.2,"size":7},
       "encoding":{"x":{"field":"lo","type":"quantitative","scale":{"type":"log","domain":[5.2,215],"nice":false}}}},
      {"data":{"name":"bSum"},"transform":[{"filter":"datum.cyt==='IFN-λ1'"}],"mark":{"type":"tick","color":"#000","thickness":1.2,"size":7},
       "encoding":{"x":{"field":"hi","type":"quantitative","scale":{"type":"log","domain":[5.2,215],"nice":false}}}},
      {"data":{"name":"bSum"},"transform":[{"filter":"datum.cyt==='IFN-λ1'"}],"mark":{"type":"tick","color":"#000","thickness":1.6,"size":15},
       "encoding":{"x":{"field":"m","type":"quantitative","scale":{"type":"log","domain":[5.2,215],"nice":false}}}}
     ]}
   ],"spacing":12,"bounds":"flush","resolve":{"scale":{"color":"independent"},"legend":{"color":"independent"}}}
  ],"spacing":-3.5,"resolve":{"scale":{"color":"independent"},"legend":{"color":"independent"}}}
 ],"spacing":18,"resolve":{"scale":{"color":"independent"},"legend":{"color":"independent"}}}
],"spacing":20,"bounds":"flush","resolve":{"scale":{"color":"independent"},"legend":{"color":"independent"}}},
{"width":1,"height":1,"data":{"values":[{"g":"Ctrls"},{"g":"RELA DN"},{"g":"STAT1 GOF"}]},"mark":{"type":"point","filled":true,"opacity":0,"size":0},
 "encoding":{"color":{"field":"g","type":"nominal","scale":{"domain":["Ctrls","RELA DN","STAT1 GOF"],"range":["#4a9a3c","#c8282e","#ec9a22"]},
  "legend":{"orient":"none","legendX":256,"legendY":3,"direction":"horizontal","title":null,"symbolType":"circle","symbolSize":64,"symbolOpacity":1,"symbolStrokeWidth":0,"labelFontSize":13.5,"labelOffset":18,"columnPadding":14}}}},
{"hconcat":[
 {"vconcat":[
  {"width":169,"height":1,"data":{"values":[]},"mark":{"type":"point","opacity":0},"encoding":{},
   "title":{"text":"C","anchor":"start","frame":"group","dx":-38,"dy":8,"offset":0,"baseline":"alphabetic","fontSize":21,"fontWeight":"bold","color":"#000"}},
  {"width":169,"height":168,"data":{"name":"umap"},
   "mark":{"type":"point","filled":true,"size":80,"stroke":"#1a1a1a","strokeWidth":0.6,"opacity":1},
   "encoding":{
    "x":{"field":"u1","type":"quantitative","scale":{"domain":[-17.3,9.9],"nice":false,"zero":false},"axis":{"values":[-10,0],"format":"d","title":"UMAP1","titlePadding":2}},
    "y":{"field":"u2","type":"quantitative","scale":{"domain":[-2.34,1.78],"nice":false,"zero":false},"axis":{"values":[-2,-1,0,1],"format":"d","title":"UMAP2"}},
    "color":{"field":"g","type":"nominal","scale":{"domain":["Ctrls","RELA DN","STAT1 GOF"],"range":["#4a9a3c","#c8282e","#ec9a22"]},"legend":null},
    "shape":{"field":"stim","type":"nominal","scale":{"domain":["NS","IFN-α2","IFN-γ","LPS"],"range":["circle","triangle-up","triangle-down","diamond"]},
     "legend":{"orient":"bottom-right","direction":"horizontal","columns":2,"title":null,"symbolFillColor":"transparent","symbolStrokeColor":"#000","symbolStrokeWidth":1.2,"symbolSize":120,"labelFontSize":14,"offset":3,"columnPadding":8,"rowPadding":3}}}}
 ],"spacing":12,"resolve":{"scale":{"color":"independent","shape":"independent"},"legend":{"color":"independent","shape":"independent"}}},
 {"vconcat":[
   {"width":503,"height":1,"data":{"values":[]},"mark":{"type":"point","opacity":0},
    "title":{"text":"D","anchor":"start","frame":"group","dx":-45,"dy":30,"offset":0,"baseline":"alphabetic","fontSize":21,"fontWeight":"bold","color":"#000"},
    "encoding":{"x":{"field":"v","type":"quantitative","scale":{"domain":[0,1],"nice":false},"axis":{"orient":"top","ticks":false,"labels":false,"domainColor":"#333","title":"DE analysis for the interactions of genotype and stimuli","titlePadding":4}}}},
   {"hconcat":[
    {"width":145,"height":146,"title":{"text":"RELA DN & IFN-α2","offset":0,"fontSize":13.5},
     "layer":[
      {"data":{"name":"d1n"},"mark":{"type":"circle","size":16,"color":"#000","opacity":1},
       "encoding":{"x":{"field":"x","type":"quantitative","scale":{"domain":[-33,33],"nice":false,"zero":false},"axis":{"values":[-20,0,20],"format":"d","title":null}},
        "y":{"field":"y","type":"quantitative","scale":{"domain":[-0.8,17.1],"nice":false,"zero":false},"axis":{"values":[0,5,10,15],"format":"d","title":"-log10(AdjPValue)"}}}},
      {"data":{"name":"d1b"},"mark":{"type":"circle","size":11,"color":"#4a7fd2","opacity":1},
       "encoding":{"x":{"field":"x","type":"quantitative","scale":{"domain":[-33,33],"nice":false,"zero":false}},"y":{"field":"y","type":"quantitative","scale":{"domain":[-0.8,17.1],"nice":false,"zero":false}}}},
      {"data":{"name":"d1r"},"mark":{"type":"circle","size":11,"color":"#c52a2e","opacity":1},
       "encoding":{"x":{"field":"x","type":"quantitative","scale":{"domain":[-33,33],"nice":false,"zero":false}},"y":{"field":"y","type":"quantitative","scale":{"domain":[-0.8,17.1],"nice":false,"zero":false}}}},
      {"data":{"values":[{"t":1.3}]},"mark":{"type":"rule","strokeDash":[4,3],"color":"#000","strokeWidth":1},
       "encoding":{"y":{"field":"t","type":"quantitative","scale":{"domain":[-0.8,17.1],"nice":false,"zero":false}}}},
      {"data":{"values":[{"t":-1},{"t":1}]},"mark":{"type":"rule","strokeDash":[4,3],"color":"#000","strokeWidth":1},
       "encoding":{"x":{"field":"t","type":"quantitative","scale":{"domain":[-33,33],"nice":false,"zero":false}}}},
      {"data":{"values":[{"lab":"94 genes"}]},"mark":{"type":"text","align":"right","baseline":"middle","fontSize":14,"color":"#4a7fd2"},
       "encoding":{"x":{"datum":-4.2,"type":"quantitative","scale":{"domain":[-33,33],"nice":false,"zero":false}},"y":{"datum":17.45,"type":"quantitative","scale":{"domain":[-0.8,17.1],"nice":false,"zero":false}},"text":{"field":"lab"}}},
      {"data":{"values":[{"lab":"27 genes"}]},"mark":{"type":"text","align":"left","baseline":"middle","fontSize":14,"color":"#c52a2e"},
       "encoding":{"x":{"datum":4.8,"type":"quantitative","scale":{"domain":[-33,33],"nice":false,"zero":false}},"y":{"datum":17.45,"type":"quantitative","scale":{"domain":[-0.8,17.1],"nice":false,"zero":false}},"text":{"field":"lab"}}}
     ]},
    {"width":145,"height":146,"title":{"text":"RELA DN & IFN-γ","offset":0,"fontSize":13.5},
     "layer":[
      {"data":{"name":"d2n"},"mark":{"type":"circle","size":16,"color":"#000","opacity":1},
       "encoding":{"x":{"field":"x","type":"quantitative","scale":{"domain":[-32.5,32.5],"nice":false,"zero":false},"axis":{"values":[-20,0,20],"format":"d","title":"Log₂ fold-change","titlePadding":4}},
        "y":{"field":"y","type":"quantitative","scale":{"domain":[-0.65,13.65],"nice":false,"zero":false},"axis":{"values":[0,5,10],"format":"d","title":null}}}},
      {"data":{"name":"d2b"},"mark":{"type":"circle","size":11,"color":"#4a7fd2","opacity":1},
       "encoding":{"x":{"field":"x","type":"quantitative","scale":{"domain":[-32.5,32.5],"nice":false,"zero":false}},"y":{"field":"y","type":"quantitative","scale":{"domain":[-0.65,13.65],"nice":false,"zero":false}}}},
      {"data":{"name":"d2r"},"mark":{"type":"circle","size":11,"color":"#c52a2e","opacity":1},
       "encoding":{"x":{"field":"x","type":"quantitative","scale":{"domain":[-32.5,32.5],"nice":false,"zero":false}},"y":{"field":"y","type":"quantitative","scale":{"domain":[-0.65,13.65],"nice":false,"zero":false}}}},
      {"data":{"values":[{"t":1.15}]},"mark":{"type":"rule","strokeDash":[4,3],"color":"#000","strokeWidth":1},
       "encoding":{"y":{"field":"t","type":"quantitative","scale":{"domain":[-0.65,13.65],"nice":false,"zero":false}}}},
      {"data":{"values":[{"t":-1},{"t":1}]},"mark":{"type":"rule","strokeDash":[4,3],"color":"#000","strokeWidth":1},
       "encoding":{"x":{"field":"t","type":"quantitative","scale":{"domain":[-32.5,32.5],"nice":false,"zero":false}}}},
      {"data":{"values":[{"lab":"29 genes"}]},"mark":{"type":"text","align":"right","baseline":"middle","fontSize":14,"color":"#4a7fd2"},
       "encoding":{"x":{"datum":-4.5,"type":"quantitative","scale":{"domain":[-32.5,32.5],"nice":false,"zero":false}},"y":{"datum":13.95,"type":"quantitative","scale":{"domain":[-0.65,13.65],"nice":false,"zero":false}},"text":{"field":"lab"}}},
      {"data":{"values":[{"lab":"30 genes"}]},"mark":{"type":"text","align":"left","baseline":"middle","fontSize":14,"color":"#c52a2e"},
       "encoding":{"x":{"datum":4.2,"type":"quantitative","scale":{"domain":[-32.5,32.5],"nice":false,"zero":false}},"y":{"datum":13.95,"type":"quantitative","scale":{"domain":[-0.65,13.65],"nice":false,"zero":false}},"text":{"field":"lab"}}}
     ]},
    {"width":145,"height":146,"title":{"text":"RELA DN & LPS","offset":0,"fontSize":13.5},
     "layer":[
      {"data":{"name":"d3n"},"mark":{"type":"circle","size":16,"color":"#000","opacity":1},
       "encoding":{"x":{"field":"x","type":"quantitative","scale":{"domain":[-32,33],"nice":false,"zero":false},"axis":{"values":[-20,0,20],"format":"d","title":null}},
        "y":{"field":"y","type":"quantitative","scale":{"domain":[-0.78,16.3],"nice":false,"zero":false},"axis":{"values":[0,5,10,15],"format":"d","title":null}}}},
      {"data":{"name":"d3b"},"mark":{"type":"circle","size":11,"color":"#4a7fd2","opacity":1},
       "encoding":{"x":{"field":"x","type":"quantitative","scale":{"domain":[-32,33],"nice":false,"zero":false}},"y":{"field":"y","type":"quantitative","scale":{"domain":[-0.78,16.3],"nice":false,"zero":false}}}},
      {"data":{"name":"d3r"},"mark":{"type":"circle","size":11,"color":"#c52a2e","opacity":1},
       "encoding":{"x":{"field":"x","type":"quantitative","scale":{"domain":[-32,33],"nice":false,"zero":false}},"y":{"field":"y","type":"quantitative","scale":{"domain":[-0.78,16.3],"nice":false,"zero":false}}}},
      {"data":{"values":[{"t":1.3}]},"mark":{"type":"rule","strokeDash":[4,3],"color":"#000","strokeWidth":1},
       "encoding":{"y":{"field":"t","type":"quantitative","scale":{"domain":[-0.78,16.3],"nice":false,"zero":false}}}},
      {"data":{"values":[{"t":-1},{"t":1}]},"mark":{"type":"rule","strokeDash":[4,3],"color":"#000","strokeWidth":1},
       "encoding":{"x":{"field":"t","type":"quantitative","scale":{"domain":[-32,33],"nice":false,"zero":false}}}},
      {"data":{"values":[{"lab":"312 genes"}]},"mark":{"type":"text","align":"right","baseline":"middle","fontSize":14,"color":"#4a7fd2"},
       "encoding":{"x":{"datum":-1.8,"type":"quantitative","scale":{"domain":[-32,33],"nice":false,"zero":false}},"y":{"datum":16.67,"type":"quantitative","scale":{"domain":[-0.78,16.3],"nice":false,"zero":false}},"text":{"field":"lab"}}},
      {"data":{"values":[{"lab":"59 genes"}]},"mark":{"type":"text","align":"left","baseline":"middle","fontSize":14,"color":"#c52a2e"},
       "encoding":{"x":{"datum":3.7,"type":"quantitative","scale":{"domain":[-32,33],"nice":false,"zero":false}},"y":{"datum":16.67,"type":"quantitative","scale":{"domain":[-0.78,16.3],"nice":false,"zero":false}},"text":{"field":"lab"}}}
     ]}
   ],"spacing":34,"bounds":"flush"}
 ],"spacing":3}
],"spacing":16,"resolve":{"scale":{"color":"independent","shape":"independent"},"legend":{"color":"independent","shape":"independent"}}}
],
"spacing":8.5,
"resolve":{"scale":{"color":"independent","shape":"independent"},"legend":{"color":"independent","shape":"independent"}}
}
